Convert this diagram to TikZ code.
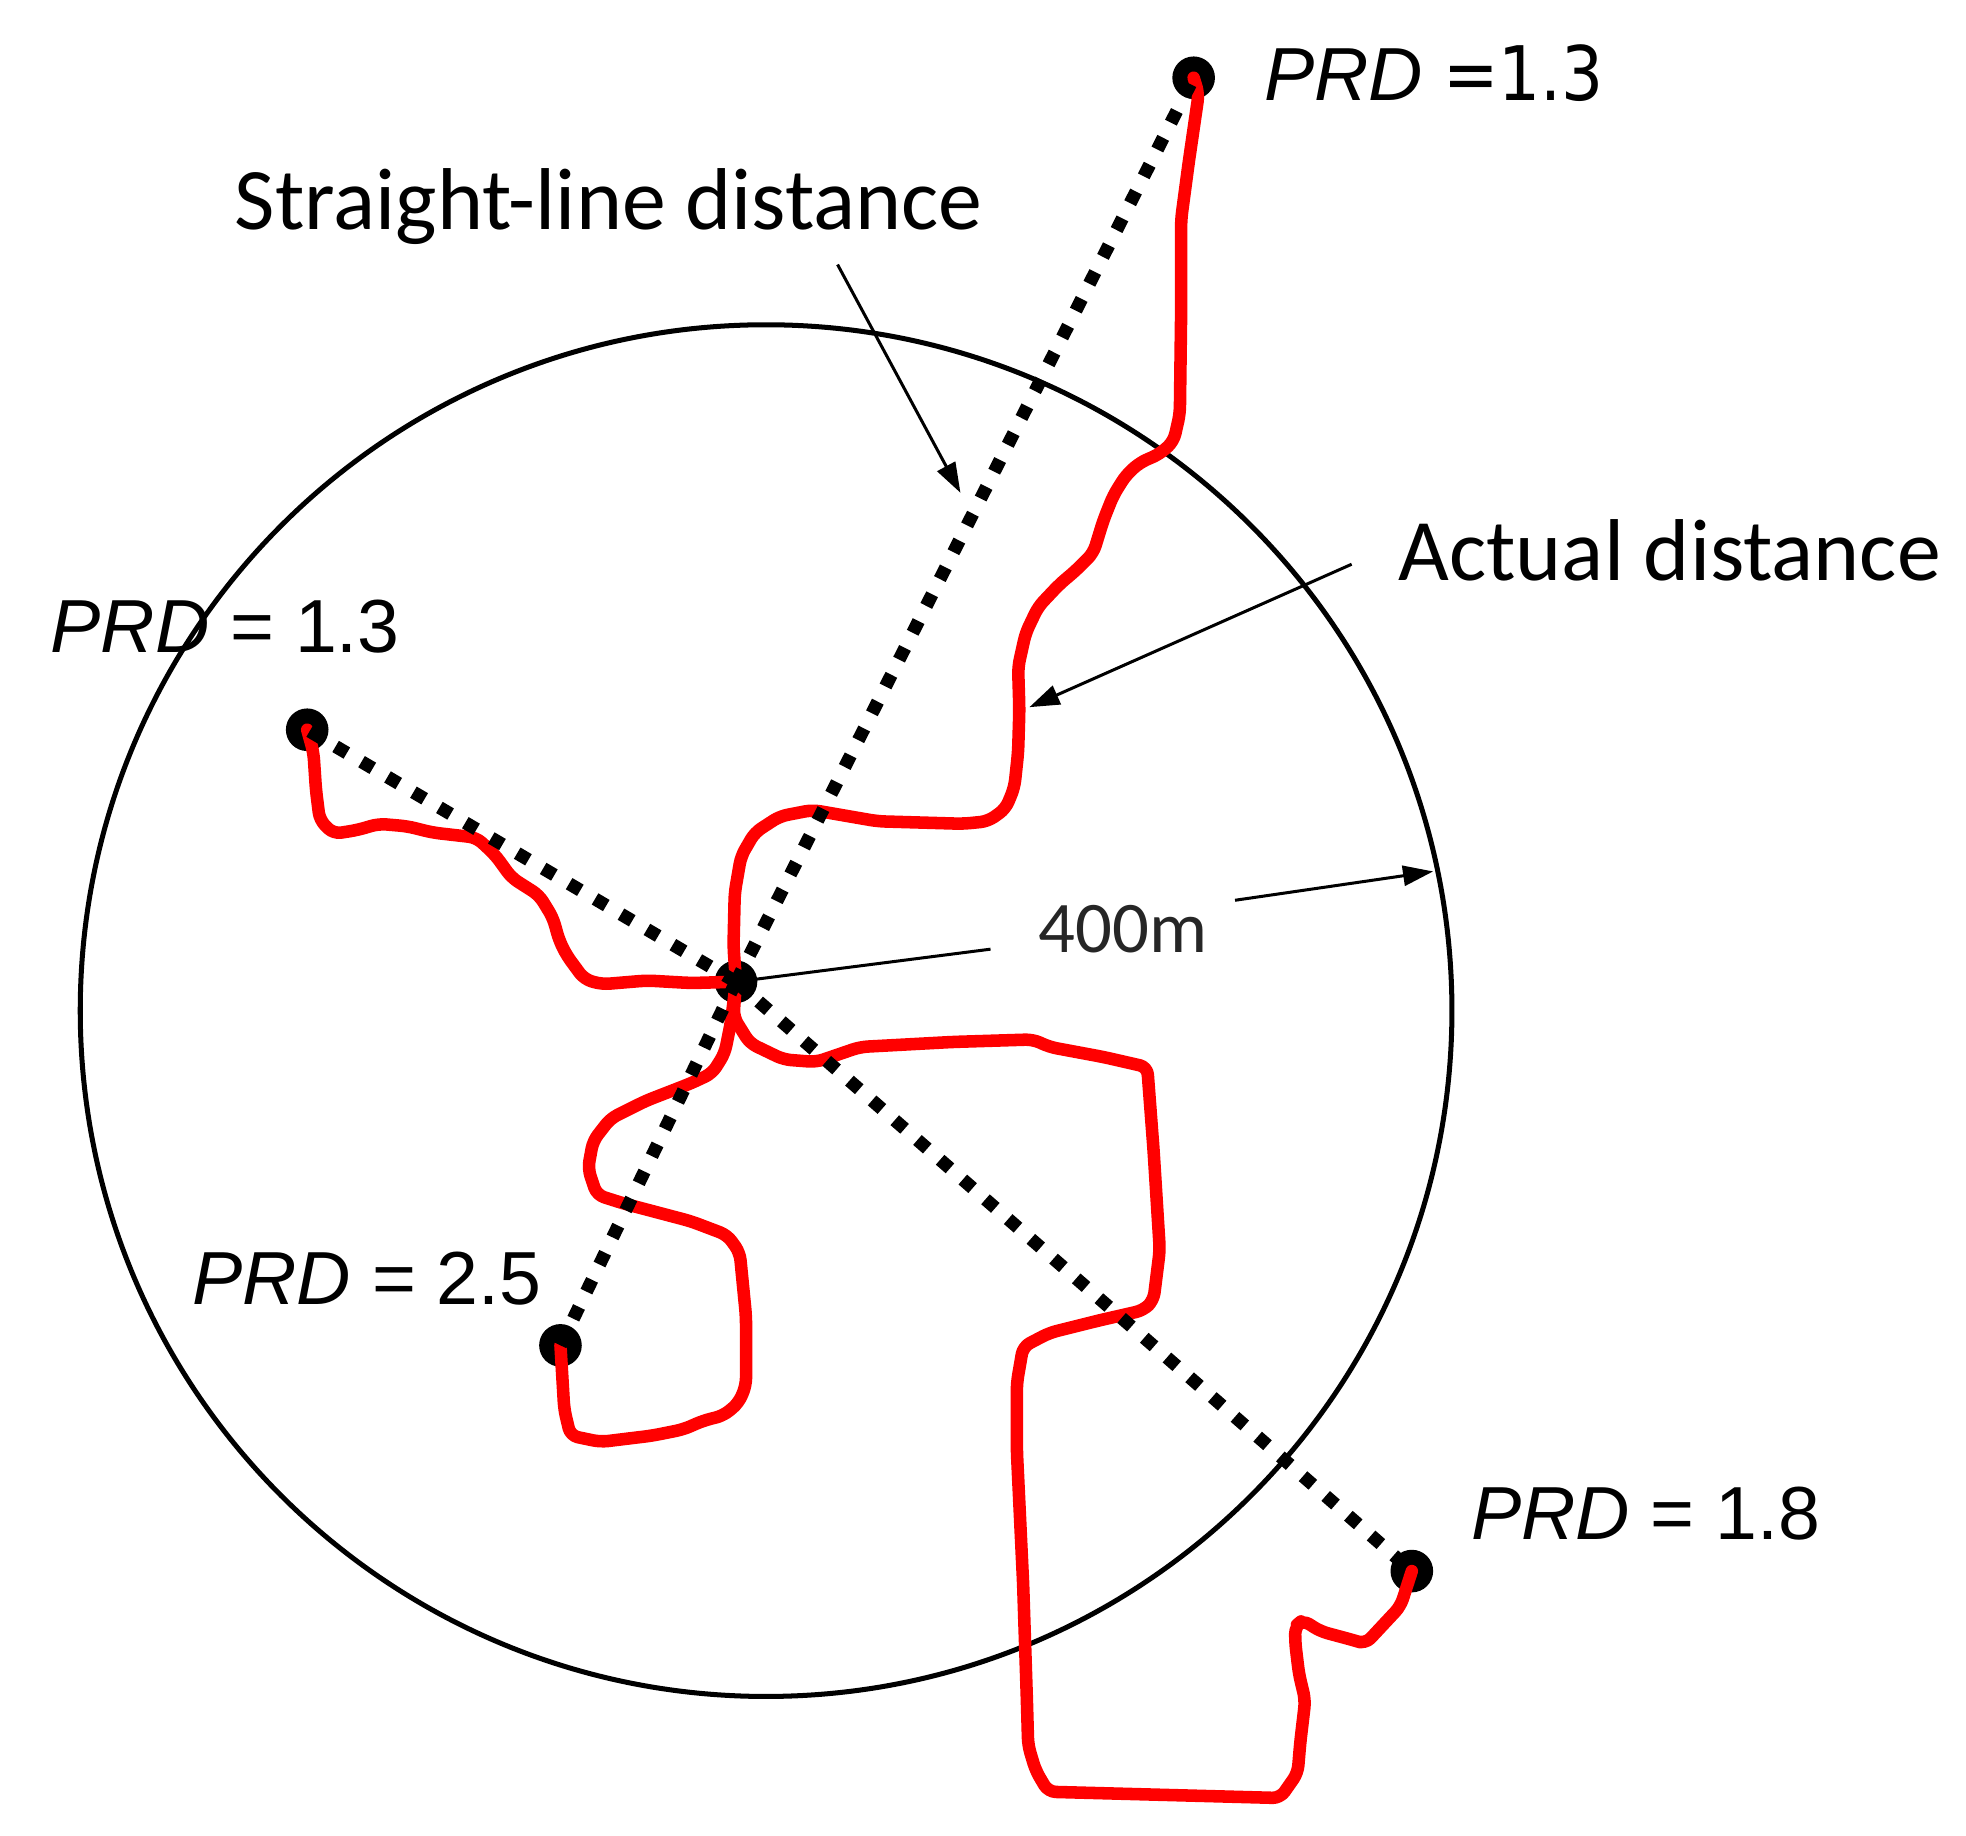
\documentclass[tikz,border=0pt]{standalone}
\usepackage{fontspec}
\usepackage{graphicx}
\usetikzlibrary{arrows.meta}
\newfontfamily\labfont{Carlito}
\newfontfamily\prdfont{Liberation Sans}
\newfontfamily\eqfont{DejaVu Sans}
\begin{document}
\begin{tikzpicture}[x=0.5pt,y=-0.5pt,
  dotnode/.style={circle,fill=black,inner sep=0pt,minimum size=17pt},
  ring/.style={line width=2pt,black},
  redpath/.style={line width=5pt,red,line join=round,line cap=round,rounded corners=3pt},
  dotline/.style={line width=5.2pt,black,dash pattern=on 5.2pt off 6.8pt},
  pointer/.style={line width=1.2pt,black,-{Triangle[length=12pt,width=8pt]}},
  plainline/.style={line width=1.2pt,black},
  biglab/.style={anchor=base west,inner sep=0pt,font=\labfont\fontsize{35}{40}\selectfont},
  midlab/.style={anchor=base west,inner sep=0pt,text=black!85,font=\labfont\fontsize{29}{34}\selectfont},
  prdlab/.style={anchor=base west,inner sep=0pt,font=\prdfont\fontsize{30}{36}\selectfont}]
\fill[white] (0,0) rectangle (1568,1464);
\useasboundingbox (0,0) rectangle (1568,1464);

% circle
\draw[ring] (611,806) circle [radius=547];

% labels
\node[biglab] (sl) at (187,183) {Straight-line distance};
\node[biglab] (ad) at (1115,463) {Actual distance};
\node[midlab] (fm) at (828,760) {400m};
\node[prdlab] (p1) at (40,520) {\itshape PRD\/\upshape{} = 1.3};
\node[prdlab] (p2) at (1008,80) {\itshape PRD\/\upshape\hspace{8pt}{\eqfont\scalebox{0.88}[1]{=1.3}}};
\node[prdlab] (p3) at (153,1040) {\itshape PRD\/\upshape{} = 2.5};
\node[prdlab] (p4) at (1173,1228) {\itshape PRD\/\upshape{} = 1.8};

% dots
\node[dotnode] (c) at (587,783) {};
\node[dotnode] (t) at (952,62) {};
\node[dotnode] (l) at (245,582) {};
\node[dotnode] (d) at (447,1073) {};
\node[dotnode] (e) at (1126,1253) {};

% arrows
\coordinate (slA) at (668,211);
\coordinate (slB) at (766,393);
\coordinate (adA) at (1078,450);
\coordinate (adB) at (821,564);
\coordinate (rA) at (790,757);
\coordinate (rB) at (985,718);
\coordinate (rC) at (1143,695);
\draw[pointer] (slA) -- (slB);
\draw[pointer] (adA) -- (adB);
\draw[plainline] (c.center) -- (rA);
\draw[pointer] (rB) -- (rC);

% red actual paths
\draw[redpath] (t.center) -- (956,75) -- (948,130) -- (942,175) -- (942,250) -- (941,330) -- (936,352) -- (925,362) -- (909,369) -- (898,379) -- (888,395) -- (880,415) -- (872,441) -- (858,455) -- (845,466) -- (828,484) -- (818,505) -- (812,532) -- (813,566) -- (812,600) -- (809,628) -- (802,645) -- (788,655) -- (768,657) -- (700,655) -- (648,646) -- (622,651) -- (602,664) -- (591,683) -- (586,712) -- (585,755) -- (c.center);
\draw[redpath] (l.center) -- (250,600) -- (252,630) -- (255,654) -- (266,665) -- (285,662) -- (302,657) -- (325,659) -- (345,664) -- (380,668) -- (395,682) -- (408,700) -- (430,714) -- (441,732) -- (446,750) -- (452,762) -- (466,781) -- (480,785) -- (516,782) -- (551,784) -- (c.center);
\draw[redpath] (c.center) -- (583,815) -- (578,840) -- (568,856) -- (551,864) -- (515,878) -- (487,892) -- (473,910) -- (469,932) -- (476,953) -- (498,960) -- (551,974) -- (580,985) -- (590,999) -- (595,1050) -- (595,1105) -- (589,1119) -- (577,1129) -- (561,1133) -- (545,1140) -- (520,1145) -- (479,1150) -- (455,1145) -- (450,1124) -- (d.center);
\draw[redpath] (c.center) -- (585,811) -- (598,832) -- (625,845) -- (651,847) -- (686,835) -- (760,831) -- (824,829) -- (837,835) -- (880,843) -- (915,851) -- (920,917) -- (925,997) -- (920,1037) -- (912,1045) -- (877,1053) -- (837,1063) -- (816,1074) -- (811,1103) -- (811,1157) -- (816,1263) -- (819,1356) -- (820,1392) -- (826,1412) -- (836,1429) -- (1021,1434) -- (1028,1424) -- (1035,1414) -- (1037,1390) -- (1041,1356) -- (1036,1335) -- (1033,1310) -- (1033,1297) -- (1039,1292) -- (1053,1301) -- (1079,1308) -- (1089,1311) -- (1117,1281) -- (e.center);

% straight-line (dotted) distances
\draw[dotline] (c.center) -- (t.center);
\draw[dotline] (c.center) -- (l.center);
\draw[dotline] (c.center) -- (d.center);
\draw[dotline] (c.center) -- (e.center);
\end{tikzpicture}
\end{document}
